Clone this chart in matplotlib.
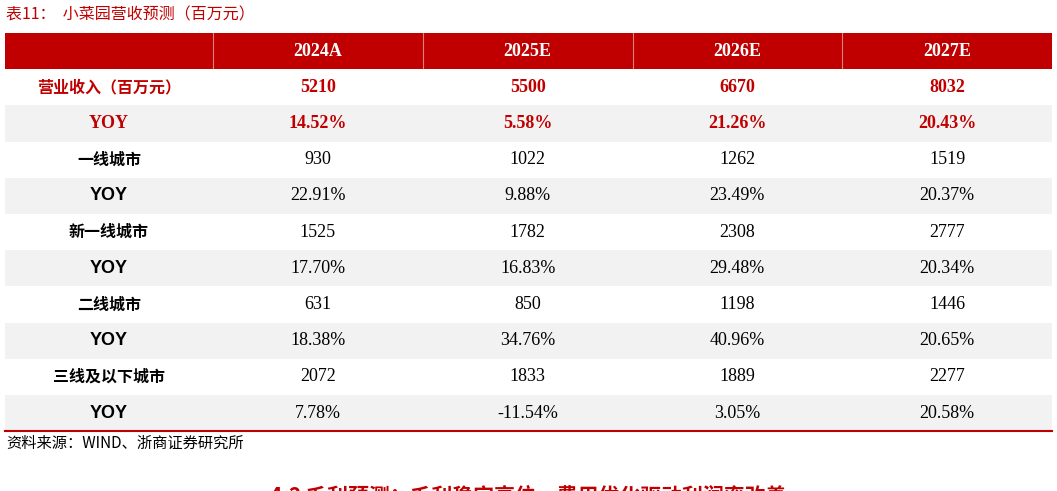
import matplotlib
matplotlib.use("Agg")
import matplotlib.pyplot as plt
from matplotlib.patches import Rectangle

title = "表11：  小菜园营收预测（百万元）"
columns = ["2024A", "2025E", "2026E", "2027E"]
row_labels = ["营业收入（百万元）", "YOY", "一线城市", "YOY", "新一线城市", "YOY",
              "二线城市", "YOY", "三线及以下城市", "YOY"]
values = [
    ["5210", "5500", "6670", "8032"],
    ["14.52%", "5.58%", "21.26%", "20.43%"],
    ["930", "1022", "1262", "1519"],
    ["22.91%", "9.88%", "23.49%", "20.37%"],
    ["1525", "1782", "2308", "2777"],
    ["17.70%", "16.83%", "29.48%", "20.34%"],
    ["631", "850", "1198", "1446"],
    ["18.38%", "34.76%", "40.96%", "20.65%"],
    ["2072", "1833", "1889", "2277"],
    ["7.78%", "-11.54%", "3.05%", "20.58%"],
]
source = "资料来源：WIND、浙商证券研究所"
next_heading = "4.2 毛利预测：毛利稳定高位，费用优化驱动利润率改善"

RED = "#C00000"
CJK = ["Noto Sans CJK SC", "DejaVu Sans"]
SERIF = ["Liberation Serif", "Noto Sans CJK SC"]

fig = plt.figure(figsize=(10.57, 4.91), dpi=100)
ax = fig.add_axes([0, 0, 1, 1])
ax.set_xlim(0, 1057)
ax.set_ylim(491, 0)
ax.axis("off")

x0, x1 = 5, 1052
first_w = 208
col_w = (x1 - x0 - first_w) / 4
top = 33
rh = 36.2

ax.text(6, 15, title, fontsize=11.5, color=RED, family=CJK, va="center")

ax.add_patch(Rectangle((x0, top), x1 - x0, rh, color=RED, lw=0))
for i in range(1, 5):
    xs = x0 + first_w + col_w * (i - 1)
    ax.plot([xs, xs], [top, top + rh], color="white", lw=0.8, alpha=0.5)
for i, c in enumerate(columns):
    cx = x0 + first_w + col_w * (i + 0.5)
    ax.text(cx, top + rh / 2, c, color="white", fontsize=13, fontweight="bold",
            family=SERIF, ha="center", va="center")

for r, (lab, vals) in enumerate(zip(row_labels, values)):
    y = top + rh * (r + 1)
    if r % 2 == 1:
        ax.add_patch(Rectangle((x0, y), x1 - x0, rh, color="#F2F2F2", lw=0))
    cy = y + rh / 2
    red = r < 2
    color = RED if red else "black"
    if lab == "YOY":
        fam = SERIF if red else ["Liberation Sans", "DejaVu Sans"]
    else:
        fam = CJK
    ax.text(x0 + first_w / 2, cy, lab, color=color, fontsize=13 if lab == "YOY" else 11.5,
            fontweight="bold", family=fam, ha="center", va="center")
    for i, v in enumerate(vals):
        cx = x0 + first_w + col_w * (i + 0.5)
        ax.text(cx, cy, v, color=color, fontsize=13, fontweight="bold" if red else "normal",
                family=SERIF, ha="center", va="center")

bottom = top + rh * 11
ax.plot([x0, x1], [bottom, bottom], color=RED, lw=1.5)
ax.text(6, 443, source, fontsize=11, family=CJK, va="center")
# heading of the next section, cut off at the bottom edge as in the reference
ax.text(528, 496, next_heading, fontsize=15, color=RED, fontweight="bold",
        family=CJK, ha="center", va="center")

fig.savefig("out.png", dpi=100)
